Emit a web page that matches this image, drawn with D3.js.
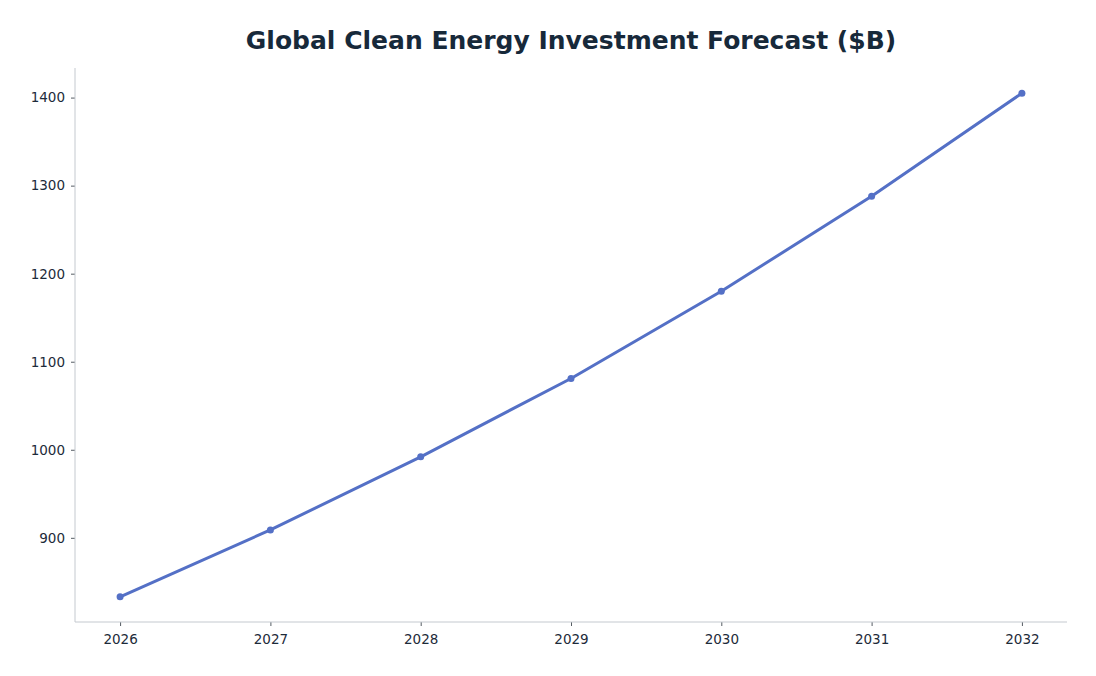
<!DOCTYPE html>
<html>
<head>
<meta charset="utf-8">
<script src="https://cdn.jsdelivr.net/npm/d3@7"></script>
<style>
  body { margin: 0; background: #fff; }
  svg text { font-family: "DejaVu Sans", sans-serif; }
</style>
</head>
<body>
<div id="chart"></div>
<script>
// data
var years = [2026, 2027, 2028, 2029, 2030, 2031, 2032];
var investment = [833, 909, 992, 1081, 1180, 1288, 1405];
var yTicks = [900, 1000, 1100, 1200, 1300, 1400];

const W = 1096, H = 676;
const margin = {top: 68, right: 29, bottom: 54, left: 75};
const width = W - margin.left - margin.right,
      height = H - margin.top - margin.bottom;

const svg = d3.select("#chart")
  .append("svg")
  .attr("width", W)
  .attr("height", H);

svg.append("text")
  .attr("x", W / 2 + 23)
  .attr("y", 49)
  .attr("text-anchor", "middle")
  .style("font-size", "25px")
  .style("font-weight", "bold")
  .style("fill", "#17293a")
  .text("Global Clean Energy Investment Forecast ($B)");

const g = svg.append("g")
  .attr("transform", `translate(${margin.left}, ${margin.top})`);

// 5% padding like the original autoscale
const xPad = (d3.max(years) - d3.min(years)) * 0.05;
const x = d3.scaleLinear()
  .domain([d3.min(years) - xPad, d3.max(years) + xPad])
  .range([0, width]);

const yPad = (d3.max(investment) - d3.min(investment)) * 0.05;
const y = d3.scaleLinear()
  .domain([d3.min(investment) - yPad, d3.max(investment) + yPad])
  .range([height, 0]);

const xAxis = g.append("g")
  .attr("transform", `translate(0, ${height})`)
  .call(d3.axisBottom(x).tickValues(years).tickFormat(d3.format("d")).tickSizeOuter(0).tickSize(4).tickPadding(8));

const yAxis = g.append("g")
  .call(d3.axisLeft(y).tickValues(yTicks).tickFormat(d3.format("d")).tickSizeOuter(0).tickSize(4).tickPadding(6));

[xAxis, yAxis].forEach(a => {
  a.select(".domain").remove();
  a.selectAll(".tick line").attr("stroke", "#555c63");
  a.selectAll(".tick text")
    .style("font-size", "13.5px")
    .style("fill", "#1d2b3a");
});

// left and bottom spines
g.append("line")
  .attr("x1", 0).attr("x2", 0)
  .attr("y1", 0).attr("y2", height)
  .attr("stroke", "#c4c9cf");
g.append("line")
  .attr("x1", 0).attr("x2", width)
  .attr("y1", height).attr("y2", height)
  .attr("stroke", "#c4c9cf");

const line = d3.line()
  .x((d, i) => x(years[i]))
  .y(d => y(d));

g.append("path")
  .datum(investment)
  .attr("fill", "none")
  .attr("stroke", "#5470c6")
  .attr("stroke-width", 3)
  .attr("stroke-linejoin", "round")
  .attr("d", line);

g.selectAll(".dot")
  .data(investment)
  .enter().append("circle")
  .attr("class", "dot")
  .attr("cx", (d, i) => x(years[i]))
  .attr("cy", d => y(d))
  .attr("r", 3.5)
  .attr("fill", "#5470c6");
</script>
</body>
</html>
